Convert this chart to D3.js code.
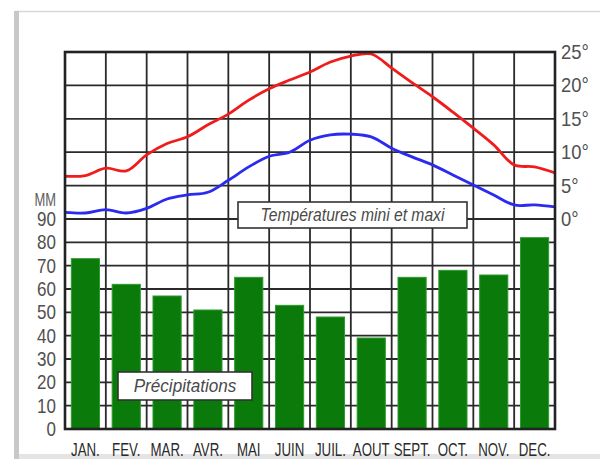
<!DOCTYPE html>
<html><head><meta charset="utf-8">
<script src="https://cdn.jsdelivr.net/npm/d3@7"></script>
<style>html,body{margin:0;padding:0;background:#fff;}svg{display:block;}</style>
</head><body>
<svg id="c" width="600" height="459"></svg>
<script>
const months = ["JAN.","FEV.","MAR.","AVR.","MAI","JUIN","JUIL.","AOUT","SEPT.","OCT.","NOV.","DEC."];
const precip = [73, 62, 57, 51, 65, 53, 48, 39, 65, 68, 66, 82];
// temperatures sampled every half month (month boundaries and centres), 0 → 12
const tPos = d3.range(0, 12.01, 0.5);
const tMax = [6.4, 6.5, 7.6, 7.2, 9.6, 11.3, 12.3, 14.1, 15.7, 17.8, 19.5, 20.8, 22.0, 23.5, 24.4, 24.7, 22.6, 20.4, 18.3, 16.0, 13.6, 11.1, 8.1, 7.8, 6.9];
const tMin = [1.0, 0.9, 1.4, 0.9, 1.6, 3.0, 3.6, 4.0, 5.8, 7.8, 9.4, 10.0, 11.8, 12.6, 12.7, 12.3, 10.6, 9.3, 8.1, 6.6, 5.1, 3.6, 2.1, 2.1, 1.8];
const precipTicks = [0,10,20,30,40,50,60,70,80,90];
const tempTicks = [0,5,10,15,20,25];

const L = 65, R = 555, T = 52, B = 429;
const svg = d3.select("#c");

// outer decoration
svg.append("rect").attr("x",14).attr("y",11).attr("width",586).attr("height",448).attr("fill","#fff");
svg.append("line").attr("x1",14).attr("x2",600).attr("y1",11.5).attr("y2",11.5).attr("stroke","#d8d8d8").attr("stroke-width",1.5);
svg.append("rect").attr("x",14).attr("y",11).attr("width",5).attr("height",448).attr("fill","#c8c8c8");
svg.append("rect").attr("x",19).attr("y",454).attr("width",581).attr("height",5).attr("fill","#e4e4e4");

const x = d3.scaleBand().domain(months).range([L, R]).paddingInner(0.31).paddingOuter(0.155);
const xt = d3.scaleLinear().domain([0, 12]).range([L, R]);
const yP = d3.scaleLinear().domain([0, 90]).range([B, 219]);
const yT = d3.scaleLinear().domain([0, 25]).range([219, T]);

const grid = svg.append("g").attr("stroke","#2a2a2a").attr("stroke-width",1.8);
grid.selectAll(".v").data(d3.range(0,13)).join("line")
  .attr("x1",d=>xt(d)).attr("x2",d=>xt(d)).attr("y1",T).attr("y2",B);
grid.selectAll(".hp").data(precipTicks).join("line")
  .attr("x1",L).attr("x2",R).attr("y1",d=>yP(d)).attr("y2",d=>yP(d));
grid.selectAll(".ht").data(tempTicks).join("line")
  .attr("x1",L).attr("x2",R).attr("y1",d=>yT(d)).attr("y2",d=>yT(d));

// lines
const line = d3.line().x((d,i)=>xt(tPos[i])).y(d=>yT(d)).curve(d3.curveCatmullRom.alpha(0.5));
svg.append("path").datum(tMax).attr("d",line).attr("fill","none").attr("stroke","#f01c1c").attr("stroke-width",2.8);
svg.append("path").datum(tMin).attr("d",line).attr("fill","none").attr("stroke","#2a2af0").attr("stroke-width",2.8);

// bars
svg.selectAll(".bar").data(months).join("rect")
  .attr("x",d=>x(d)).attr("width",x.bandwidth())
  .attr("y",(d,i)=>yP(precip[i])).attr("height",(d,i)=>yP(0)-yP(precip[i]))
  .attr("fill","#0a7a0a").attr("stroke","#2f9a2f").attr("stroke-width",1);

// frame
svg.append("rect").attr("x",L).attr("y",T).attr("width",R-L).attr("height",B-T)
  .attr("fill","none").attr("stroke","#222").attr("stroke-width",2.6);

// left axis labels
const gl = svg.append("g");
gl.selectAll("text").data(precipTicks).join("text")
  .attr("transform",d=>`translate(56,${yP(d)+7}) scale(0.85,1)`)
  .attr("text-anchor","end").attr("font-family","Liberation Sans, Arial, sans-serif")
  .attr("font-size",20).attr("fill","#505050").text(d=>d);
svg.append("text").attr("transform",`translate(56,${yP(90)-13}) scale(0.72,1)`)
  .attr("text-anchor","end").attr("font-family","Liberation Sans, Arial, sans-serif")
  .attr("font-size",18).attr("fill","#606060").text("MM");

// right axis labels
svg.append("g").selectAll("text").data(tempTicks).join("text")
  .attr("transform",d=>`translate(561,${yT(d)+7}) scale(0.92,1)`)
  .attr("font-family","Liberation Sans, Arial, sans-serif")
  .attr("font-size",20).attr("fill","#505050").text(d=>d+"°");

// month labels
svg.append("g").selectAll("text").data(months).join("text")
  .attr("transform",d=>`translate(${x(d)+x.bandwidth()/2},456) scale(0.7,1)`)
  .attr("text-anchor","middle").attr("font-family","Liberation Sans Narrow, Liberation Sans, Arial, sans-serif")
  .attr("font-size",19).attr("fill","#2a2a2a").text(d=>d);

// legend boxes
function box(x0,y0,w,h,label,fs,tx){
  svg.append("rect").attr("x",x0).attr("y",y0).attr("width",w).attr("height",h)
    .attr("fill","#fff").attr("stroke","#333").attr("stroke-width",1.6);
  svg.append("text").attr("transform",`translate(${x0+w/2},${y0+h/2+6}) scale(${tx},1)`)
    .attr("text-anchor","middle").attr("font-family","Liberation Sans, Arial, sans-serif")
    .attr("font-style","italic").attr("font-size",fs).attr("fill","#4a4a4a").text(label);
}
box(238,202,229,26,"Températures mini et maxi",18,0.87);
box(118,372,134,28,"Précipitations",19,0.9);
</script>
</body></html>
